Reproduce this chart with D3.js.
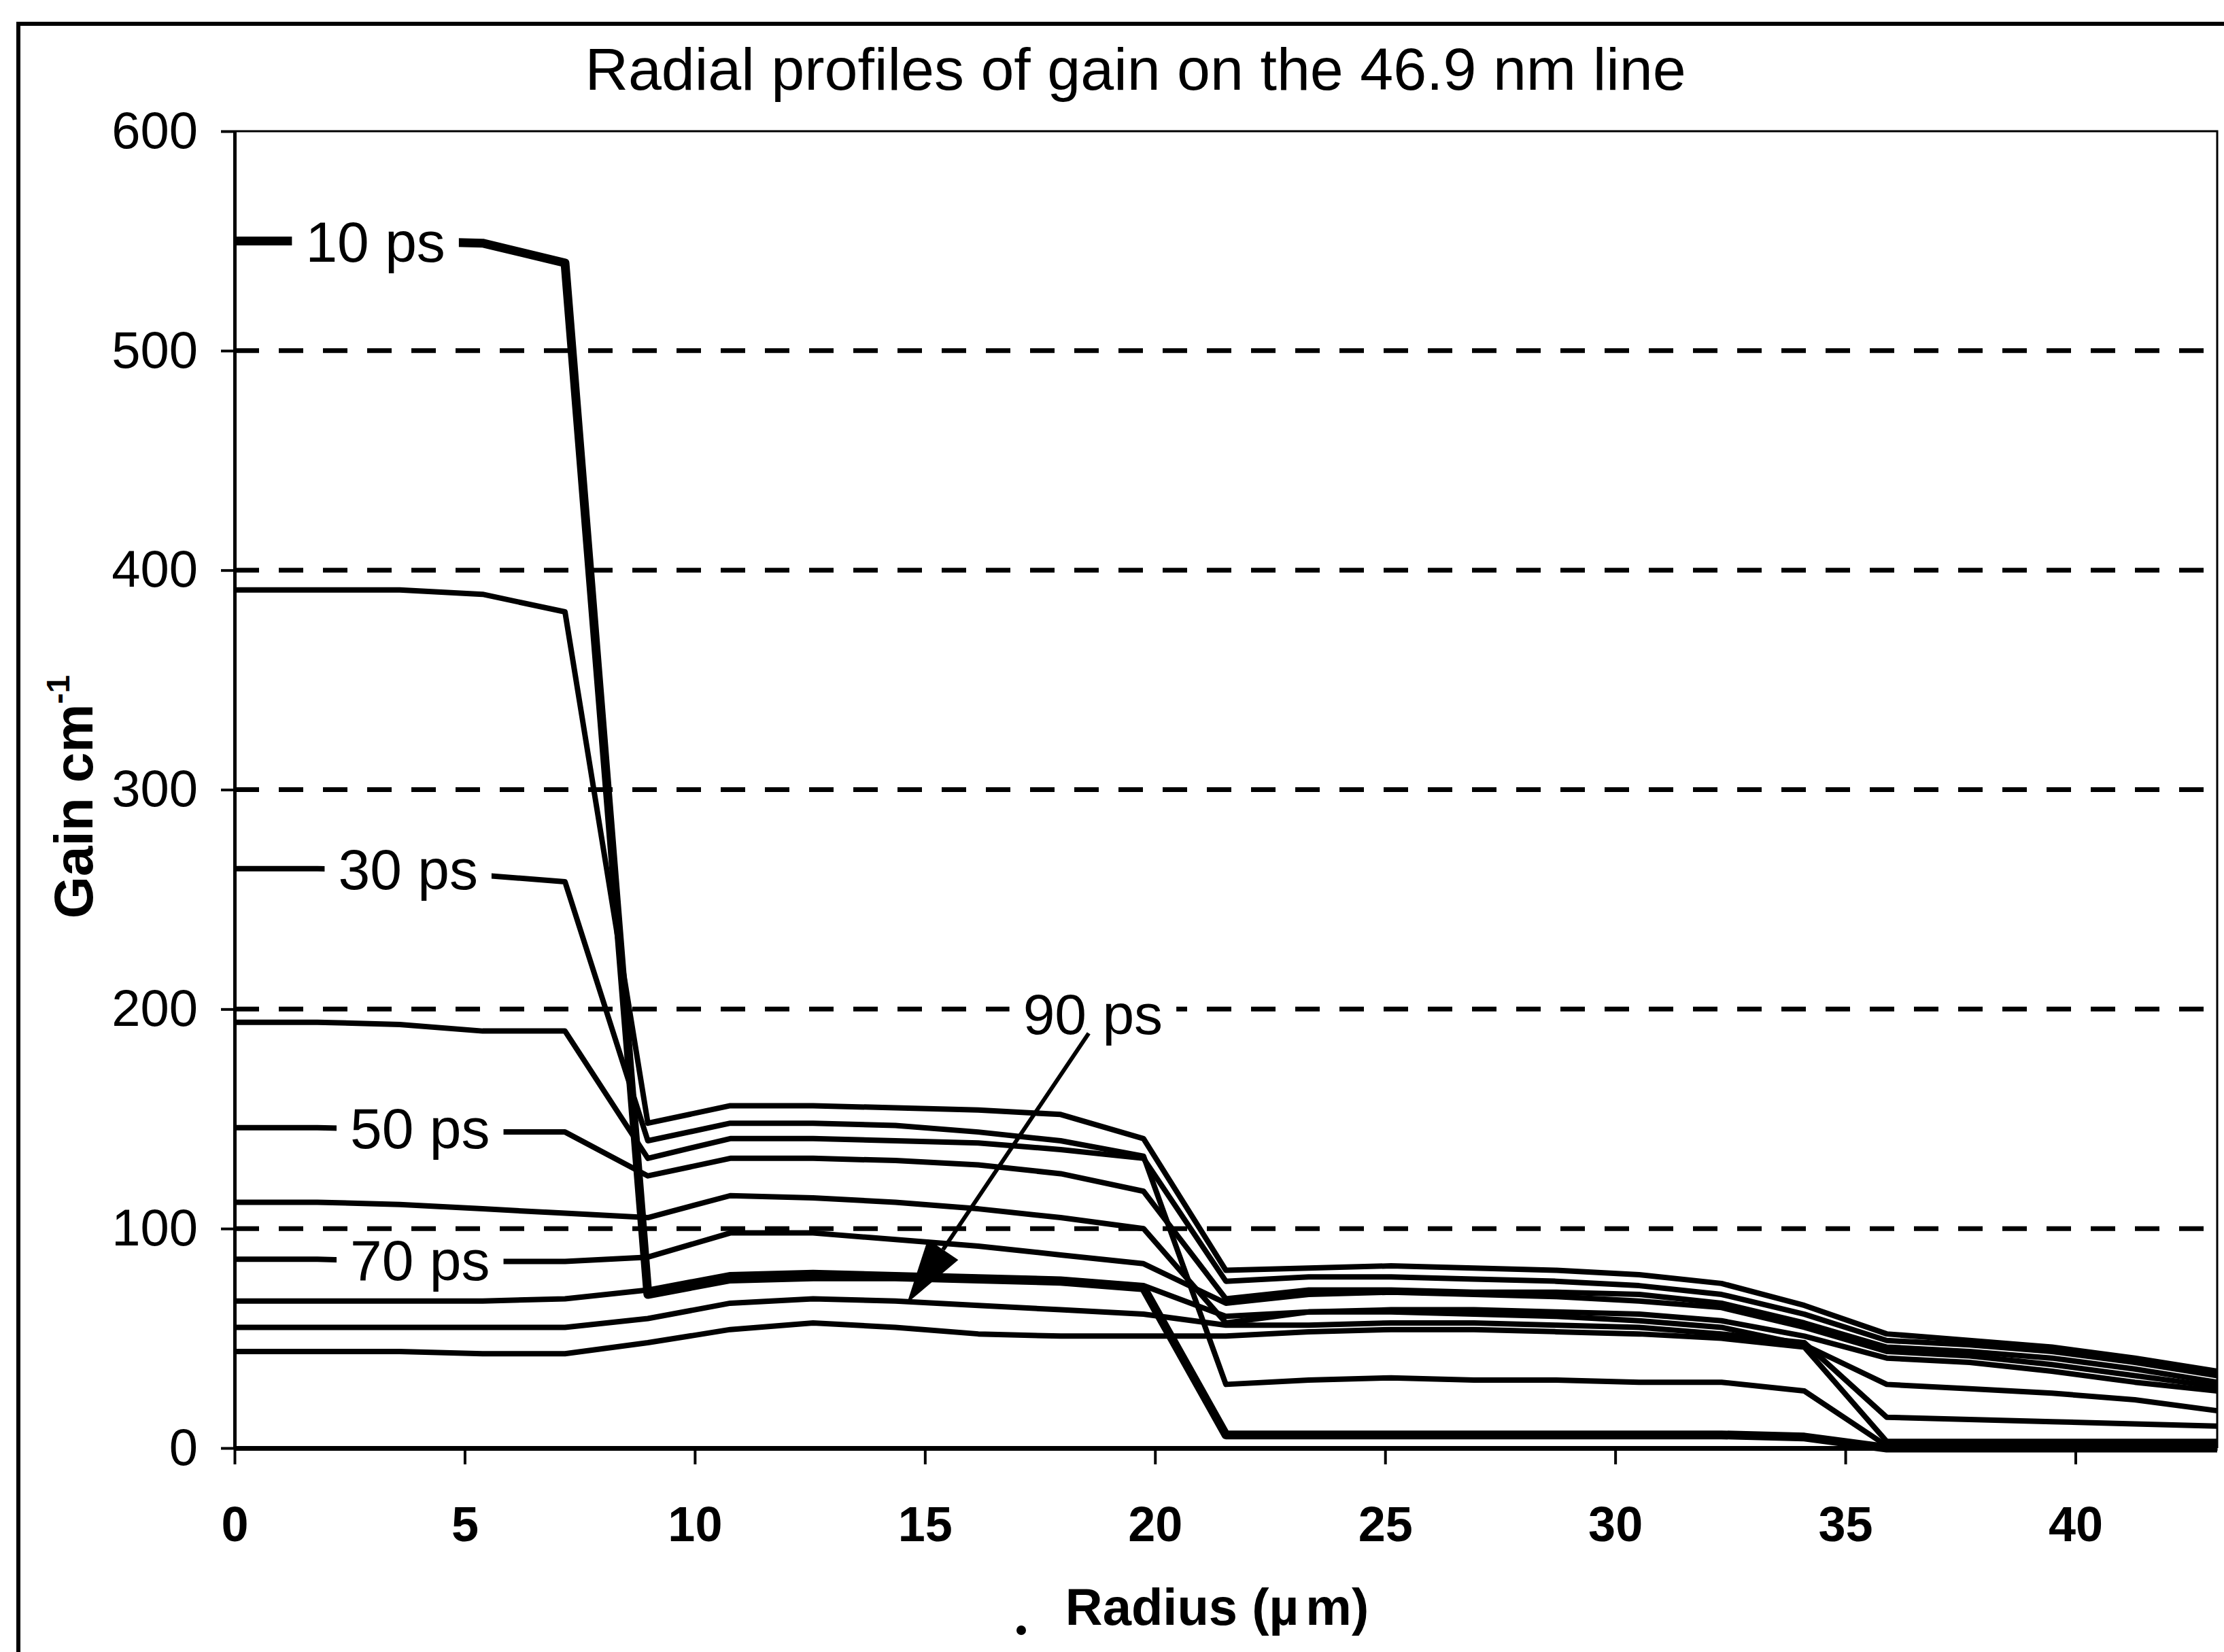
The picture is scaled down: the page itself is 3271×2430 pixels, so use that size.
<!DOCTYPE html>
<html>
<head>
<meta charset="utf-8">
<script src="https://cdn.jsdelivr.net/npm/d3@7"></script>
<style>
  html, body { margin: 0; padding: 0; background: #fff; }
  svg { display: block; }
</style>
</head>
<body>
<svg id="chart" width="3271" height="2430"></svg>
<script>
const FONT = '"Liberation Sans", Arial, Helvetica, sans-serif';

// radius sample points (um)
const radius = [0, 1.8, 3.59, 5.39, 7.18, 8.98, 10.77, 12.57, 14.36, 16.16, 17.95, 19.75,
  21.54, 23.34, 25.13, 26.93, 28.72, 30.52, 32.31, 34.11, 35.9, 37.7, 39.49, 41.29, 43.08];

// gain (cm^-1), one list per time
const gain10 = [550, 550, 550, 549, 540, 70, 77, 78, 78, 77, 76, 73, 6, 6, 6, 6, 6, 6, 6, 5, 0, 0, 0, 0, 0];
const gain20 = [391, 391, 391, 389, 381, 148, 156, 156, 155, 154, 152, 141, 81, 82, 83, 82, 81, 79, 75, 65, 52, 49, 46, 41, 35];
const gain30 = [264, 264, 263, 261, 258, 140, 148, 148, 147, 144, 140, 133, 29, 31, 32, 31, 31, 30, 30, 26, 1, 0, 0, 0, 0];
const gain40 = [194, 194, 193, 190, 190, 132, 141, 141, 140, 139, 136, 132, 76, 78, 78, 77, 76, 74, 70, 61, 49, 47, 44, 39, 33];
const gain50 = [146, 146, 145, 144, 144, 124, 132, 132, 131, 129, 125, 117, 68, 72, 72, 71, 71, 70, 66, 57, 46, 44, 41, 36, 30];
const gain60 = [112, 112, 111, 109, 107, 105, 115, 114, 112, 109, 105, 100, 57, 62, 63, 63, 62, 61, 58, 51, 41, 39, 35, 30, 26];
const gain70 = [86, 86, 85, 85, 85, 87, 98, 98, 95, 92, 88, 84, 66, 70, 71, 70, 69, 67, 64, 55, 44, 42, 38, 33, 28];
const gain80 = [67, 67, 67, 67, 68, 72, 79, 80, 79, 78, 77, 74, 60, 62, 62, 61, 60, 58, 55, 47, 29, 27, 25, 22, 17];
const gain90 = [55, 55, 55, 55, 55, 59, 66, 68, 67, 65, 63, 61, 56, 56, 57, 57, 56, 55, 52, 48, 14, 13, 12, 11, 10];
const gain100 = [44, 44, 44, 43, 43, 48, 54, 57, 55, 52, 51, 51, 51, 53, 54, 54, 53, 52, 50, 46, 3, 3, 3, 3, 3];

const xTicks = [0, 5, 10, 15, 20, 25, 30, 35, 40];
const yTicks = [0, 100, 200, 300, 400, 500, 600];
const gridValues = [100, 200, 300, 400, 500];

// curve labels (placed on their curve, in data units)
const labelNames = ['10 ps', '30 ps', '50 ps', '70 ps', '90 ps'];
const labelRadius = [3.06, 3.77, 4.03, 4.03, 18.65];
const labelGain = [550, 264, 146, 86, 198];
const arrowFrom = [18.56, 189];
const arrowTo = [14.61, 66];

const series = [
  { name: '10 ps', values: gain10, width: 13 },
  { name: '20 ps', values: gain20, width: 8 },
  { name: '30 ps', values: gain30, width: 8 },
  { name: '40 ps', values: gain40, width: 8 },
  { name: '50 ps', values: gain50, width: 8 },
  { name: '60 ps', values: gain60, width: 8 },
  { name: '70 ps', values: gain70, width: 8 },
  { name: '80 ps', values: gain80, width: 8 },
  { name: '90 ps', values: gain90, width: 8 },
  { name: '100 ps', values: gain100, width: 8 }
];

const svg = d3.select('#chart').attr('font-family', FONT);

const x = d3.scaleLinear().domain([0, 43.08]).range([345, 3261]);
const y = d3.scaleLinear().domain([0, 600]).range([2130, 193]);

svg.append('rect').attr('width', 3271).attr('height', 2430).attr('fill', '#fff');

// outer frame (cut by the page edge on the right and bottom)
svg.append('path')
    .attr('d', 'M27,2430V35H3271')
    .attr('fill', 'none')
    .attr('stroke', '#000')
    .attr('stroke-width', 6);

// title
svg.append('text')
    .attr('x', 1670)
    .attr('y', 132)
    .attr('text-anchor', 'middle')
    .attr('font-size', 88)
    .text('Radial profiles of gain on the 46.9 nm line');

// dashed grid lines
svg.append('g').selectAll('line')
    .data(gridValues)
    .enter()
    .append('line')
    .attr('x1', x(0))
    .attr('x2', x.range()[1])
    .attr('y1', (d) => y(d))
    .attr('y2', (d) => y(d))
    .attr('stroke', '#000')
    .attr('stroke-width', 7)
    .attr('stroke-dasharray', '36 29');

// plot frame top and right
svg.append('path')
    .attr('d', `M${x(0)},${y(600)}H${x.range()[1]}V${y(0)}`)
    .attr('fill', 'none')
    .attr('stroke', '#000')
    .attr('stroke-width', 3);

// curves
const line = d3.line()
    .x((d, i) => x(radius[i]))
    .y((d) => y(d));

svg.append('g').selectAll('path')
    .data(series)
    .enter()
    .append('path')
    .attr('d', (d) => line(d.values))
    .attr('fill', 'none')
    .attr('stroke', '#000')
    .attr('stroke-width', (d) => d.width)
    .attr('stroke-linejoin', 'round');

// axes
svg.append('g')
    .attr('transform', `translate(${x(0)},0)`)
    .call(d3.axisLeft(y).tickValues(yTicks).tickSize(20).tickSizeOuter(0).tickPadding(34))
    .attr('font-family', FONT)
    .attr('font-size', 76)
    .call((g) => g.select('.domain').attr('stroke-width', 5))
    .call((g) => g.selectAll('.tick line').attr('stroke-width', 4))
    .call((g) => g.selectAll('.tick text').attr('fill', '#000'));

svg.append('g')
    .attr('transform', `translate(0,${y(0)})`)
    .call(d3.axisBottom(x).tickValues(xTicks).tickSize(24).tickSizeOuter(0).tickPadding(62))
    .attr('font-family', FONT)
    .attr('font-size', 72)
    .attr('font-weight', 'bold')
    .call((g) => g.select('.domain').attr('stroke-width', 7))
    .call((g) => g.selectAll('.tick line').attr('stroke-width', 4))
    .call((g) => g.selectAll('.tick text').attr('fill', '#000'));

// axis titles
const xTitle = svg.append('text')
    .attr('x', 1790)
    .attr('y', 2390)
    .attr('text-anchor', 'middle')
    .attr('font-size', 76)
    .attr('font-weight', 'bold')
    .text('Radius (');
xTitle.append('tspan').text('\u00b5');
xTitle.append('tspan').attr('dx', 10).text('m)');

const yTitle = svg.append('text')
    .attr('transform', 'translate(136,1172)rotate(-90)')
    .attr('text-anchor', 'middle')
    .attr('font-size', 80)
    .attr('font-weight', 'bold')
    .text('Gain cm');
yTitle.append('tspan')
    .attr('font-size', 48)
    .attr('dy', -34)
    .text('-1');

// curve labels on white boxes
const labels = svg.append('g').selectAll('g')
    .data(labelNames)
    .enter()
    .append('g')
    .attr('transform', (d, i) => `translate(${x(labelRadius[i])},${y(labelGain[i])})`);

labels.append('rect').attr('fill', '#fff');
labels.append('text')
    .attr('text-anchor', 'middle')
    .attr('dy', '0.36em')
    .attr('font-size', 84)
    .text((d) => d);
labels.each(function () {
    const g = d3.select(this);
    const b = g.select('text').node().getBBox();
    g.select('rect')
        .attr('x', b.x - 20)
        .attr('y', -36)
        .attr('width', b.width + 40)
        .attr('height', 72);
});

// arrow to the 90 ps curve
const ax0 = x(arrowFrom[0]), ay0 = y(arrowFrom[1]);
const ax1 = x(arrowTo[0]), ay1 = y(arrowTo[1]);
const len = Math.hypot(ax1 - ax0, ay1 - ay0);
const ux = (ax1 - ax0) / len, uy = (ay1 - ay0) / len;
const headLen = 95, headHalf = 27;
const bx = ax1 - ux * headLen, by = ay1 - uy * headLen;

svg.append('line')
    .attr('x1', ax0)
    .attr('y1', ay0)
    .attr('x2', bx)
    .attr('y2', by)
    .attr('stroke', '#000')
    .attr('stroke-width', 6);

svg.append('path')
    .attr('d', `M${ax1},${ay1}L${bx - uy * headHalf},${by + ux * headHalf}L${bx + uy * headHalf},${by - ux * headHalf}Z`)
    .attr('fill', '#000');

// stray mark below the axis title
svg.append('circle')
    .attr('cx', 1502)
    .attr('cy', 2398)
    .attr('r', 7)
    .attr('fill', '#000');
</script>
</body>
</html>
